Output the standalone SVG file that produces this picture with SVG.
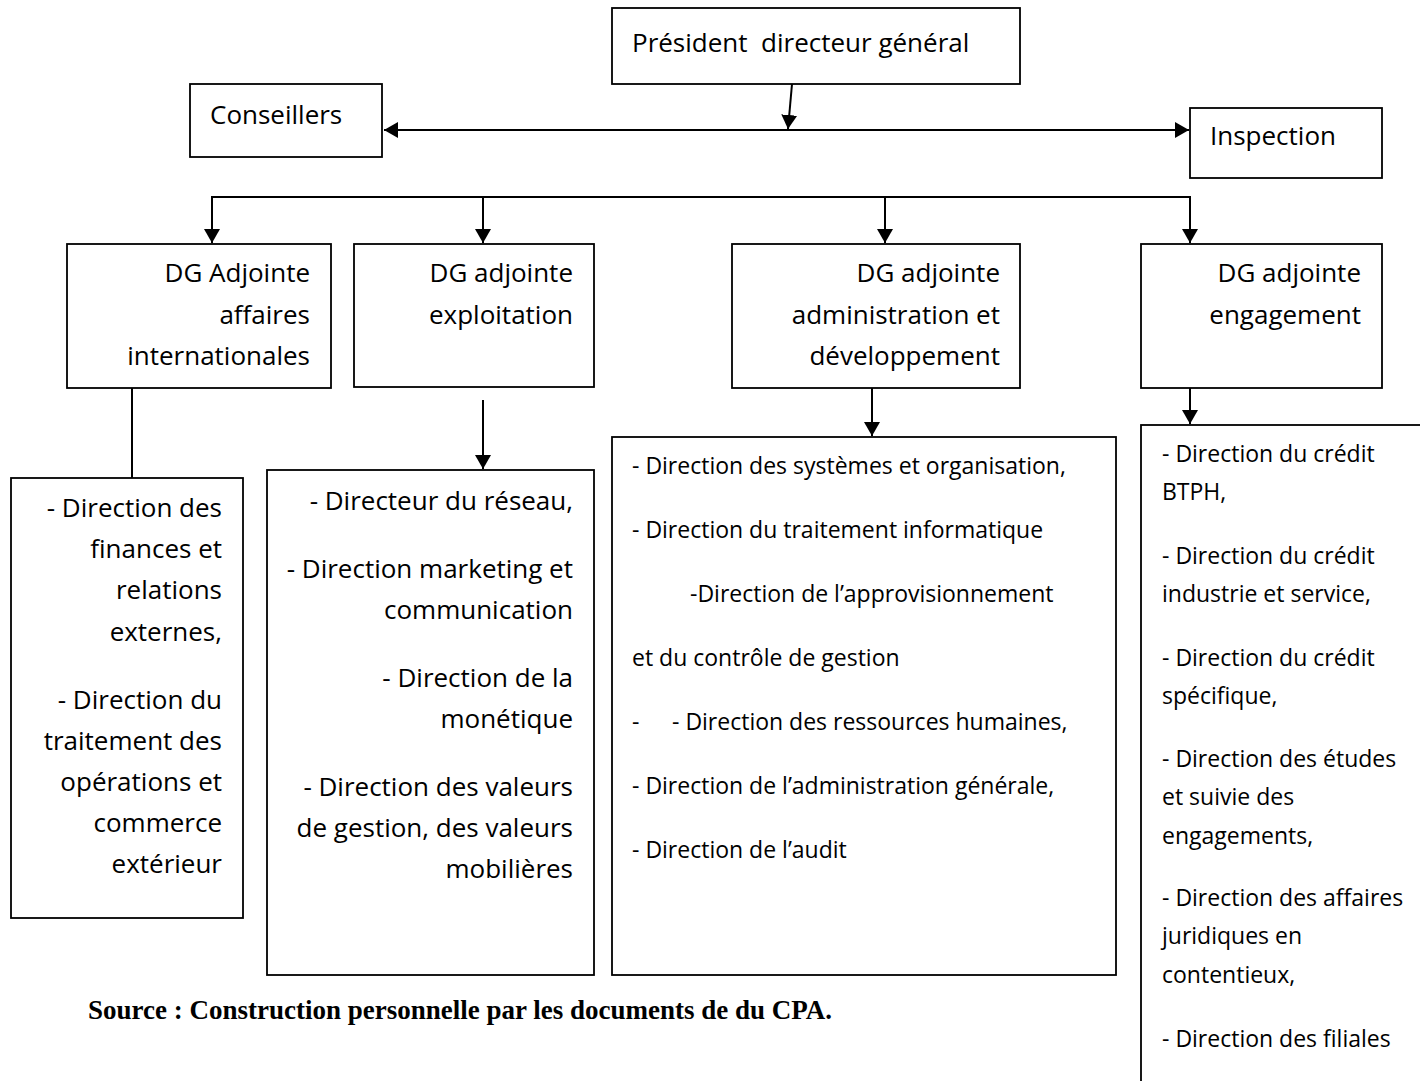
<svg xmlns="http://www.w3.org/2000/svg" width="1420" height="1081" viewBox="0 0 1420 1081">
<style>
.box{fill:#fff;stroke:#000;stroke-width:1.8}
.t{font-family:"Open Sans","DejaVu Sans",sans-serif;font-size:26px;fill:#000}
.s{font-family:"Open Sans","DejaVu Sans",sans-serif;font-size:23px;fill:#000}
.r{text-anchor:end}
.c{fill:none;stroke:#000;stroke-width:2}
.src{font-family:"Liberation Serif","Times New Roman",serif;font-weight:bold;font-size:27px;fill:#000}
</style>
<defs>
<marker id="ah" markerUnits="userSpaceOnUse" markerWidth="14" markerHeight="16" viewBox="0 0 14 16" refX="14" refY="8" orient="auto">
<path d="M0,0 L14,8 L0,16 Z" fill="#000"/>
</marker>
<marker id="ahs" markerUnits="userSpaceOnUse" markerWidth="14" markerHeight="16" viewBox="0 0 14 16" refX="0" refY="8" orient="auto">
<path d="M14,0 L0,8 L14,16 Z" fill="#000"/>
</marker>
</defs>
<rect width="1420" height="1081" fill="#fff"/>

<g id="connectors">
<line class="c" x1="384" y1="130" x2="1189" y2="130" stroke-width="3" marker-start="url(#ahs)" marker-end="url(#ah)"/>
<line class="c" x1="792" y1="84" x2="788" y2="129" marker-end="url(#ah)"/>
<path class="c" d="M212,197 H1190"/>
<line class="c" x1="212" y1="196" x2="212" y2="243" marker-end="url(#ah)"/>
<line class="c" x1="483" y1="197" x2="483" y2="243" marker-end="url(#ah)"/>
<line class="c" x1="885" y1="197" x2="885" y2="243" marker-end="url(#ah)"/>
<line class="c" x1="1190" y1="196" x2="1190" y2="243" marker-end="url(#ah)"/>
<line class="c" x1="132" y1="375" x2="132" y2="478"/>
<line class="c" x1="483" y1="400" x2="483" y2="469" marker-end="url(#ah)"/>
<line class="c" x1="872" y1="388" x2="872" y2="436" marker-end="url(#ah)"/>
<line class="c" x1="1190" y1="376" x2="1190" y2="424" marker-end="url(#ah)"/>
</g>

<g id="pdg">
<rect class="box" x="612" y="8" width="408" height="76"/>
<text class="t" x="632" y="52" xml:space="preserve">Président  directeur général</text>
</g>
<g id="conseillers">
<rect class="box" x="190" y="84" width="192" height="73"/>
<text class="t" x="210" y="124">Conseillers</text>
</g>
<g id="inspection">
<rect class="box" x="1190" y="108" width="192" height="70"/>
<text class="t" x="1210" y="145">Inspection</text>
</g>

<g id="dg-affaires">
<rect class="box" x="67" y="244" width="264" height="144"/>
<text class="t r" x="310" y="282">DG Adjointe</text>
<text class="t r" x="310" y="324">affaires</text>
<text class="t r" x="310" y="365">internationales</text>
</g>
<g id="dg-exploitation">
<rect class="box" x="354" y="244" width="240" height="143"/>
<text class="t r" x="573" y="282">DG adjointe</text>
<text class="t r" x="573" y="324">exploitation</text>
</g>
<g id="dg-administration">
<rect class="box" x="732" y="244" width="288" height="144"/>
<text class="t r" x="1000" y="282">DG adjointe</text>
<text class="t r" x="1000" y="324">administration et</text>
<text class="t r" x="1000" y="365">développement</text>
</g>
<g id="dg-engagement">
<rect class="box" x="1141" y="244" width="241" height="144"/>
<text class="t r" x="1361" y="282">DG adjointe</text>
<text class="t r" x="1361" y="324">engagement</text>
</g>

<g id="list-affaires">
<rect class="box" x="11" y="478" width="232" height="440"/>
<text class="t r" x="222" y="517">- Direction des</text>
<text class="t r" x="222" y="558">finances et</text>
<text class="t r" x="222" y="599">relations</text>
<text class="t r" x="222" y="641">externes,</text>
<text class="t r" x="222" y="709">- Direction du</text>
<text class="t r" x="222" y="750">traitement des</text>
<text class="t r" x="222" y="791">opérations et</text>
<text class="t r" x="222" y="832">commerce</text>
<text class="t r" x="222" y="873">extérieur</text>
</g>
<g id="list-exploitation">
<rect class="box" x="267" y="470" width="327" height="505"/>
<text class="t r" x="573" y="510">- Directeur du réseau,</text>
<text class="t r" x="573" y="578">- Direction marketing et</text>
<text class="t r" x="573" y="619">communication</text>
<text class="t r" x="573" y="687">- Direction de la</text>
<text class="t r" x="573" y="728">monétique</text>
<text class="t r" x="573" y="796">- Direction des valeurs</text>
<text class="t r" x="573" y="837">de gestion, des valeurs</text>
<text class="t r" x="573" y="878">mobilières</text>
</g>
<g id="list-administration">
<rect class="box" x="612" y="437" width="504" height="538"/>
<text class="s" x="632" y="474">- Direction des systèmes et organisation,</text>
<text class="s" x="632" y="538">- Direction du traitement informatique</text>
<text class="s" x="690" y="602">-Direction de l’approvisionnement</text>
<text class="s" x="632" y="666">et du contrôle de gestion</text>
<text class="s" x="632" y="730">-</text>
<text class="s" x="672" y="730">- Direction des ressources humaines,</text>
<text class="s" x="632" y="794">- Direction de l’administration générale,</text>
<text class="s" x="632" y="858">- Direction de l’audit</text>
</g>
<g id="list-engagement">
<rect class="box" x="1141" y="425" width="300" height="700"/>
<text class="s" x="1162" y="462">- Direction du crédit</text>
<text class="s" x="1162" y="500">BTPH,</text>
<text class="s" x="1162" y="564">- Direction du crédit</text>
<text class="s" x="1162" y="602">industrie et service,</text>
<text class="s" x="1162" y="666">- Direction du crédit</text>
<text class="s" x="1162" y="704">spécifique,</text>
<text class="s" x="1162" y="767">- Direction des études</text>
<text class="s" x="1162" y="805">et suivie des</text>
<text class="s" x="1162" y="844">engagements,</text>
<text class="s" x="1162" y="906">- Direction des affaires</text>
<text class="s" x="1162" y="944">juridiques en</text>
<text class="s" x="1162" y="983">contentieux,</text>
<text class="s" x="1162" y="1047">- Direction des filiales</text>
</g>

<text class="src" x="88" y="1019">Source : Construction personnelle par les documents de du CPA.</text>
</svg>
